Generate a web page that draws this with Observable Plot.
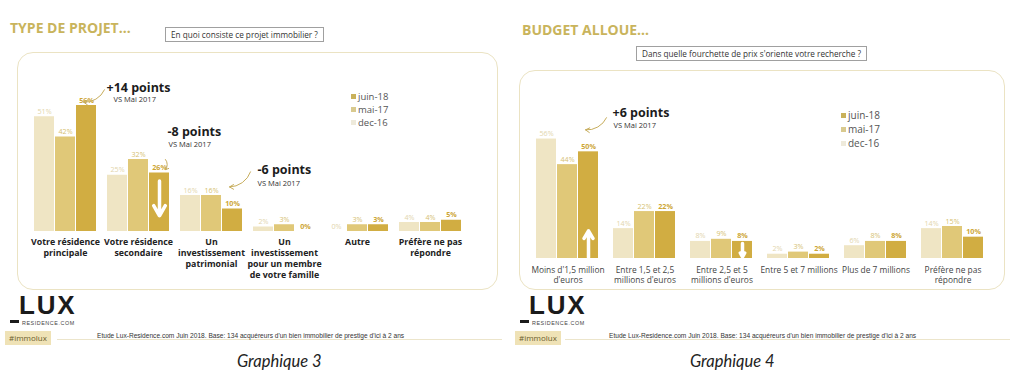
<!DOCTYPE html>
<html><head><meta charset="utf-8">
<script src="https://cdn.jsdelivr.net/npm/d3@7"></script>
<script src="https://cdn.jsdelivr.net/npm/@observablehq/plot@0.6"></script>
<style>
body{margin:0;background:#fff;}
#root{position:relative;width:1024px;height:388px;overflow:hidden;font-family:"Open Sans",sans-serif;background:#fff;}
.abs{position:absolute;}
.title{font-weight:700;color:#c9b45c;font-size:14px;white-space:nowrap;line-height:1;}
.qbox{border:1px solid #a0a0a0;font-size:8.2px;color:#333;padding:0 5px;line-height:13px;height:15px;white-space:nowrap;box-sizing:border-box;background:#fff;}
.frame{border:1.3px solid #ebe3c3;border-radius:16px;box-sizing:border-box;}
.legend div{font-size:9.5px;color:#555;height:13px;line-height:13px;white-space:nowrap;}
.legend span{display:inline-block;width:5px;height:5px;margin-right:2px;vertical-align:1px;}
.logo{font-family:"Liberation Sans",Arial,sans-serif;font-weight:700;font-size:26px;color:#1b1b1b;line-height:20px;height:20px;letter-spacing:1.8px;}
.dash{background:#1b1b1b;height:3px;width:9px;}
.resi{font-family:"Liberation Sans",Arial,sans-serif;font-size:5.4px;color:#444;letter-spacing:0.55px;line-height:1;white-space:nowrap;}
.tag{background:#efe2b6;color:#6a5d2c;font-size:8px;line-height:14px;height:14px;padding:0 4px;white-space:nowrap;}
.rule{height:1px;background:#ece5cb;}
.foot{font-family:"Liberation Sans Narrow","Liberation Sans",Arial,sans-serif;font-size:6.6px;color:#333;white-space:nowrap;line-height:1;}
.cap{font-family:Lato,sans-serif;font-style:italic;font-size:16.5px;color:#222;white-space:nowrap;line-height:1;}
svg{overflow:visible;}
</style>
</head>
<body>
<div id="root"></div>
<script>
// ---------- data ----------
const series = ["dec-16", "mai-17", "juin-18"];
const legendOrder = ["juin-18", "mai-17", "dec-16"];
const seriesColors = ["#efe5c4", "#e0c878", "#d1ad42"];
const labelColors = ["#e2d5ac", "#d6bf72", "#cda636"];
const legendColors = ["#eeeadb", "#d9ca8f", "#c9b15a"];

const projetCategories = ["Votre résidence principale", "Votre résidence secondaire", "Un investissement patrimonial", "Un investissement pour un membre de votre famille", "Autre", "Préfère ne pas répondre"];
const projetLabels = ["Votre résidence\nprincipale", "Votre résidence\nsecondaire", "Un\ninvestissement\npatrimonial", "Un\ninvestissement\npour un membre\nde votre famille", "Autre", "Préfère ne pas\nrépondre"];
const projetDec16 = [51, 25, 16, 2, 0, 4];
const projetMai17 = [42, 32, 16, 3, 3, 4];
const projetJuin18 = [56, 26, 10, 0, 3, 5];
const projetNotes = [
  {cat: 0, head: "+14 points", sub: "VS Mai 2017"},
  {cat: 1, head: "-8 points", sub: "VS Mai 2017"},
  {cat: 2, head: "-6 points", sub: "VS Mai 2017"}
];

const budgetCategories = ["Moins d'1,5 million d'euros", "Entre 1,5 et 2,5 millions d'euros", "Entre 2,5 et 5 millions d'euros", "Entre 5 et 7 millions", "Plus de 7 millions", "Préfère ne pas répondre"];
const budgetLabels = ["Moins d'1,5 million\nd'euros", "Entre 1,5 et 2,5\nmillions d'euros", "Entre 2,5 et 5\nmillions d'euros", "Entre 5 et 7 millions", "Plus de 7 millions", "Préfère ne pas\nrépondre"];
const budgetDec16 = [56, 14, 8, 2, 6, 14];
const budgetMai17 = [44, 22, 9, 3, 8, 15];
const budgetJuin18 = [50, 22, 8, 2, 8, 10];
const budgetNotes = [
  {cat: 0, head: "+6 points", sub: "VS Mai 2017"}
];

const footnote = "Etude Lux-Residence.com Juin 2018. Base:  134 acquéreurs d'un bien immobilier de prestige d'ici à 2 ans";

// ---------- helpers ----------
const root = document.getElementById("root");
function el(cls, text, css) {
  const d = document.createElement("div");
  d.className = "abs " + cls;
  if (text != null) d.textContent = text;
  Object.assign(d.style, css);
  root.appendChild(d);
  return d;
}
function rowsOf(cats, cols) {
  return cats.flatMap((c, i) => series.map((s, j) => ({cat: c, series: s, value: cols[j][i]})));
}

function chart(cfg) {
  const rows = rowsOf(cfg.cats, cfg.cols);
  const marks = [
    Plot.barY(rows, {fx: "cat", x: "series", y: "value", fill: "series"}),
    ...series.map((s, j) => Plot.text(rows.filter(r => r.series === s), {
      fx: "cat", x: "series", y: "value", text: r => r.value + "%",
      lineAnchor: "bottom", dy: -3, fontSize: 7.2, fill: labelColors[j],
      fontWeight: j === 2 ? "bold" : "normal"
    })),
    Plot.text(cfg.cats, {
      fx: d => d, text: (d, i) => cfg.labels[i], frameAnchor: "bottom", lineAnchor: "top",
      dy: cfg.labelDy, fontSize: cfg.labelSize, fontWeight: cfg.labelWeight, fill: cfg.labelFill, lineHeight: cfg.lineHeight
    })
  ];
  cfg.notes.forEach((n, k) => {
    const p = cfg.place[k];
    const cat = cfg.cats[n.cat];
    marks.push(Plot.text([n], {fx: () => cat, x: () => "juin-18", y: () => p.hy, text: "head",
      textAnchor: "start", dx: p.hdx, fontSize: 12.5, fontWeight: "bold", fill: "#1c1c1c"}));
    marks.push(Plot.text([n], {fx: () => cat, x: () => "juin-18", y: () => p.sy, text: "sub",
      textAnchor: "start", dx: p.sdx, fontSize: 7.5, fill: "#333"}));
    marks.push(Plot.arrow([n], {fx: () => cat, x1: () => "juin-18", x2: () => p.x2, y1: () => p.ay1, y2: () => p.ay2,
      dx: p.adx, bend: p.bend, stroke: "#c7ad5c", strokeWidth: 1, headLength: 7}));
  });
  cfg.white.forEach(w => {
    marks.push(Plot.arrow([w], {fx: () => cfg.cats[w.cat], x1: () => "juin-18", x2: () => "juin-18",
      y1: () => w.y1, y2: () => w.y2, stroke: "#fff", strokeWidth: 3.5, headLength: 7}));
  });
  return Plot.plot({
    width: 512, height: cfg.height,
    marginLeft: cfg.ml, marginRight: cfg.mr, marginTop: cfg.mt, marginBottom: cfg.mb,
    style: {background: "transparent", fontFamily: "'Open Sans', sans-serif", overflow: "visible"},
    fx: {domain: cfg.cats, paddingInner: cfg.pi, paddingOuter: 0, axis: null, label: null},
    x: {domain: series, paddingInner: 0.04, paddingOuter: 0, axis: null, label: null},
    y: {domain: [0, 60], axis: null, label: null},
    color: {domain: series, range: seriesColors},
    marks
  });
}

function legend(x, y, size, gap) {
  const lg = el("legend", null, {left: x + "px", top: y + "px"});
  legendOrder.forEach(s => {
    const row = document.createElement("div");
    row.style.fontSize = size + "px";
    row.style.height = gap + "px";
    row.style.lineHeight = gap + "px";
    const sw = document.createElement("span");
    sw.style.background = legendColors[series.indexOf(s)];
    row.appendChild(sw);
    row.appendChild(document.createTextNode(s));
    lg.appendChild(row);
  });
}

function footer(x0, tagW, lineEnd, footX, capText, capX) {
  el("logo", "LUX", {left: (x0 + 9) + "px", top: "295px"});
  el("dash", null, {left: x0 + "px", top: "320px"});
  el("resi", "RESIDENCE.COM", {left: (x0 + 12) + "px", top: "321px"});
  el("rule", null, {left: (x0 + tagW - 5) + "px", top: "339px", width: (lineEnd - x0 - tagW + 5) + "px"});
  el("tag", "#immolux", {left: (x0 - 5) + "px", top: "331px"});
  el("foot", footnote, {left: footX + "px", top: "333px"});
  el("cap", capText, {left: capX + "px", top: "353px"});
}

// ---------- left slide ----------
el("title", "TYPE DE PROJET…", {left: "10px", top: "21px"});
el("qbox", "En quoi consiste ce projet immobilier ?", {left: "165px", top: "27px"});
el("frame", null, {left: "17px", top: "52px", width: "481px", height: "238px"});
const left = chart({
  cats: projetCategories, labels: projetLabels, cols: [projetDec16, projetMai17, projetJuin18],
  height: 225, ml: 30, mr: 47, mt: 36, mb: 54, pi: 0.12,
  labelDy: 6, labelSize: 8.8, labelWeight: "bold", labelFill: "#222", lineHeight: 1.25,
  notes: projetNotes,
  place: [
    {hy: 64, hdx: 20, sy: 58.6, sdx: 27, ay1: 63, ay2: 57.5, x2: "mai-17", adx: 18, bend: 35},
    {hy: 44.3, hdx: 8, sy: 38.7, sdx: 9, ay1: 32, ay2: 27.5, x2: "juin-18", adx: 6, bend: 40},
    {hy: 27.3, hdx: 25, sy: 21.1, sdx: 25, ay1: 26.5, ay2: 19.8, x2: "mai-17", adx: 18, bend: 35}
  ],
  white: [{cat: 1, y1: 22.5, y2: 7}]
});
left.style.position = "absolute"; left.style.left = "0px"; left.style.top = "60px";
root.appendChild(left);
legend(351, 90, 9.5, 13);
footer(10, 52, 502, 97, "Graphique 3", 237);

// ---------- right slide ----------
el("title", "BUDGET ALLOUE…", {left: "522px", top: "23px"});
el("qbox", "Dans quelle fourchette de prix s'oriente votre recherche ?", {left: "636px", top: "46px"});
el("frame", null, {left: "519px", top: "70px", width: "486px", height: "220px"});
const right = chart({
  cats: budgetCategories, labels: budgetLabels, cols: [budgetDec16, budgetMai17, budgetJuin18],
  height: 215, ml: 23, mr: 39, mt: 55, mb: 32, pi: 0.18,
  labelDy: 8, labelSize: 8.4, labelWeight: "normal", labelFill: "#444", lineHeight: 1.15,
  notes: budgetNotes,
  place: [
    {hy: 68, hdx: 24, sy: 62.2, sdx: 25, ay1: 66, ay2: 60.3, x2: "mai-17", adx: 18, bend: 35}
  ],
  white: [{cat: 0, y1: 0.5, y2: 13}, {cat: 2, y1: 7, y2: 0.8}]
});
right.style.position = "absolute"; right.style.left = "512px"; right.style.top = "75px";
root.appendChild(right);
legend(841, 108, 10, 14);
footer(520, 50, 1010, 609, "Graphique 4", 690);
</script>
</body></html>
